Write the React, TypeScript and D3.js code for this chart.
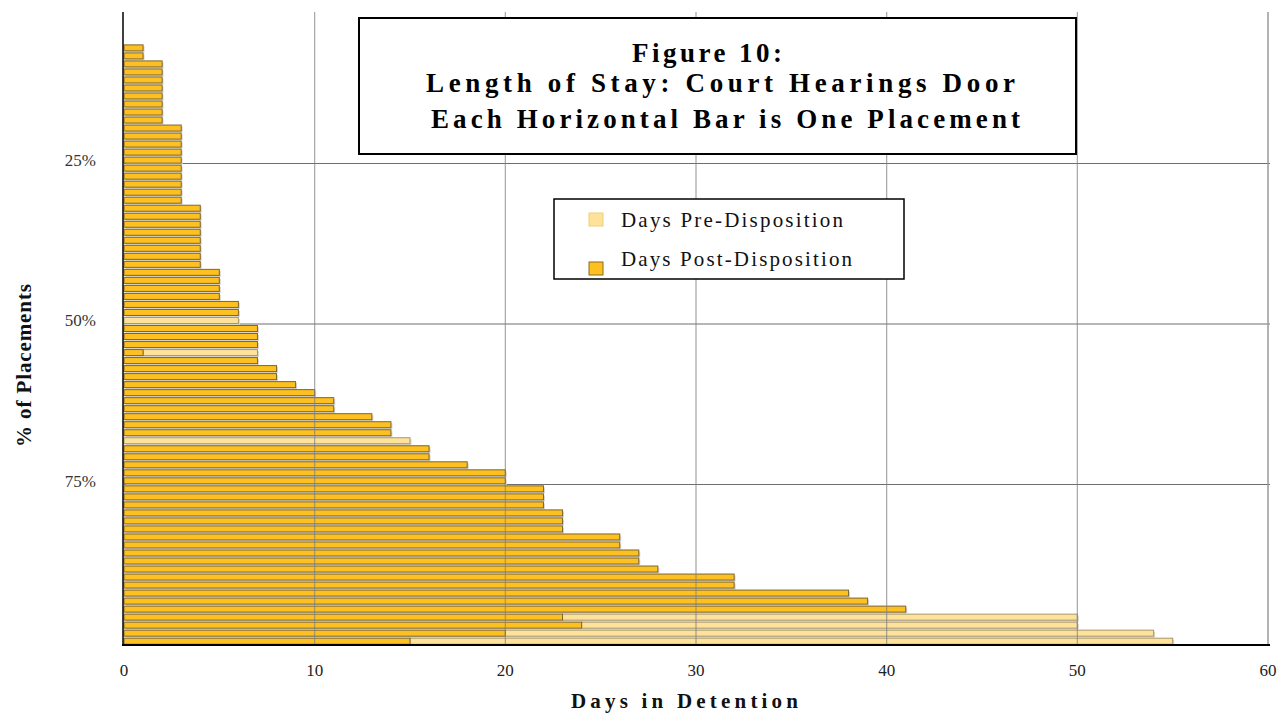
import React from "react";
import * as d3 from "d3";

// Days post-disposition for each placement (top to bottom)
const postDays = [
  0, 0, 0, 0,
  1, 1,
  2, 2, 2, 2, 2, 2, 2, 2,
  3, 3, 3, 3, 3, 3, 3, 3, 3, 3,
  4, 4, 4, 4, 4, 4, 4, 4,
  5, 5, 5, 5,
  6, 6, 0,
  7, 7, 7, 1, 7,
  8, 8, 9, 10, 11, 11, 13, 14, 14, 0, 16, 16, 18,
  20, 20, 22, 22, 22, 23, 23, 23, 26, 26, 27, 27, 28,
  32, 32, 38, 39, 41,
  23, 24, 20, 15,
];
// Days pre-disposition for each placement (top to bottom)
const preDays = [
  0, 0, 0, 0,
  0, 0,
  0, 0, 0, 0, 0, 0, 0, 0,
  0, 0, 0, 0, 0, 0, 0, 0, 0, 0,
  0, 0, 0, 0, 0, 0, 0, 0,
  0, 0, 0, 0,
  0, 0, 6,
  0, 0, 0, 6, 0,
  0, 0, 0, 0, 0, 0, 0, 0, 0, 15, 0, 0, 0,
  0, 0, 0, 0, 0, 0, 0, 0, 0, 0, 0, 0, 0,
  0, 0, 0, 0, 0,
  27, 26, 34, 40,
];
const xTicks = [0, 10, 20, 30, 40, 50, 60];
const pctTicks = [25, 50, 75];
const titleLines = [
  "Figure 10:",
  "Length of Stay: Court Hearings Door",
  "Each Horizontal Bar is One Placement",
];
const legendItems = ["Days Pre-Disposition", "Days Post-Disposition"];

const W = 1282;
const H = 713;
const plot = { left: 124, right: 1268, top: 12, bottom: 645 };

const DARK = "#FDC021";
const LIGHT = "#FFE29A";
const FONT = "'Liberation Serif', 'DejaVu Serif', serif";

export default function App() {
  const x = d3.scaleLinear().domain([0, 60]).range([plot.left, plot.right]);
  const ids = postDays.map((_, i) => i);
  const y = d3
    .scaleBand<number>()
    .domain(ids)
    .range([plot.top, plot.bottom])
    .paddingInner(0.25)
    .paddingOuter(0.1);
  const yPct = d3.scaleLinear().domain([0, 100]).range([3, 645]);
  const bh = y.bandwidth();

  const titleLayout = [
    { x: 632, y: 62, len: 150 },
    { x: 426, y: 91.5, len: 589 },
    { x: 431, y: 128, len: 589 },
  ];
  const legendLayout = [
    { y: 226.5, len: 222, sx: 589, sy: 213, fill: LIGHT, stroke: "#F2CE78" },
    { y: 265.5, len: 231, sx: 589, sy: 262, fill: DARK, stroke: "#8A6A20" },
  ];

  return (
    <svg
      width={W}
      height={H}
      style={{ position: "absolute", left: 0, top: 0, background: "#fff" }}
      fontFamily={FONT}
    >
      {/* horizontal gridlines (under bars) */}
      {pctTicks.map((p) => (
        <line
          key={"h" + p}
          x1={plot.left}
          x2={plot.right + 2}
          y1={yPct(p)}
          y2={yPct(p)}
          stroke="#6e6e6e"
          strokeWidth={1}
        />
      ))}
      {/* right border */}
      <line x1={x(60)} x2={x(60)} y1={plot.top} y2={plot.bottom} stroke="#9a9a9a" strokeWidth={1.5} />

      {/* bars */}
      {ids.map((i) => {
        const post = postDays[i];
        const pre = preDays[i];
        const total = post + pre;
        if (total === 0) return null;
        const yy = y(i)!;
        return (
          <g key={i}>
            <rect
              x={x(0) + 1.5}
              y={yy + 1.5}
              width={x(total) - x(0)}
              height={bh}
              fill="#d6d6d6"
            />
            {pre > 0 && (
              <rect
                x={x(post)}
                y={yy}
                width={x(total) - x(post)}
                height={bh}
                fill={LIGHT}
                stroke="#a8986c"
                strokeWidth={1}
              />
            )}
            {post > 0 && (
              <rect
                x={x(0)}
                y={yy}
                width={x(post) - x(0)}
                height={bh}
                fill={DARK}
                stroke="#7d6630"
                strokeWidth={1}
              />
            )}
          </g>
        );
      })}

      {/* vertical gridlines (visible over bars) */}
      {xTicks.slice(1, -1).map((t) => (
        <line
          key={"v" + t}
          x1={x(t)}
          x2={x(t)}
          y1={plot.top}
          y2={plot.bottom}
          stroke="#808080"
          strokeWidth={1.2}
          opacity={0.7}
        />
      ))}

      {/* axes */}
      <line x1={plot.left - 1} x2={plot.left - 1} y1={plot.top} y2={plot.bottom} stroke="#000" strokeWidth={1.5} />
      <line x1={plot.left - 2} x2={plot.right + 2} y1={plot.bottom} y2={plot.bottom} stroke="#000" strokeWidth={2} />

      {/* x tick labels */}
      {xTicks.map((t) => (
        <text key={"xt" + t} x={x(t)} y={676} textAnchor="middle" fontSize={17} fill="#222">
          {t}
        </text>
      ))}
      {/* y tick labels */}
      {pctTicks.map((p) => (
        <text key={"yt" + p} x={96} y={yPct(p) + 2} textAnchor="end" fontSize={17} fill="#333">
          {p + "%"}
        </text>
      ))}

      {/* axis titles */}
      <text x={571} y={708} fontSize={21} fontWeight="bold" textLength={227} lengthAdjust="spacing" fill="#111">
        Days in Detention
      </text>
      <text
        transform="translate(31,447) rotate(-90)"
        x={0}
        y={0}
        fontSize={21}
        fontWeight="bold"
        textLength={163}
        lengthAdjust="spacing"
        fill="#111"
      >
        % of Placements
      </text>

      {/* title box */}
      <rect x={359} y={18} width={717} height={136} fill="#fff" stroke="#000" strokeWidth={2} />
      {titleLines.map((t, i) => (
        <text
          key={"tl" + i}
          x={titleLayout[i].x}
          y={titleLayout[i].y}
          fontSize={27}
          fontWeight="bold"
          textLength={titleLayout[i].len}
          lengthAdjust="spacing"
          fill="#000"
        >
          {t}
        </text>
      ))}

      {/* legend */}
      <rect x={554} y={199} width={350} height={80} fill="#fff" stroke="#000" strokeWidth={1.5} />
      {legendItems.map((t, i) => (
        <g key={"lg" + i}>
          <rect
            x={legendLayout[i].sx}
            y={legendLayout[i].sy}
            width={14}
            height={13}
            fill={legendLayout[i].fill}
            stroke={legendLayout[i].stroke}
            strokeWidth={1}
          />
          <text
            x={621}
            y={legendLayout[i].y}
            fontSize={21}
            textLength={legendLayout[i].len}
            lengthAdjust="spacing"
            fill="#111"
          >
            {t}
          </text>
        </g>
      ))}
    </svg>
  );
}
